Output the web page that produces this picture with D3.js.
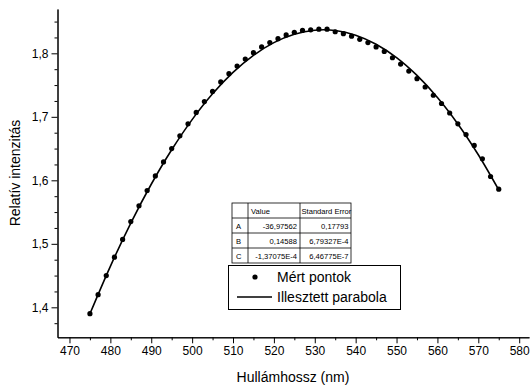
<!DOCTYPE html>
<html lang="en">
<head>
<meta charset="UTF-8">
<title>Parabola fit</title>
<script src="https://d3js.org/d3.v7.min.js"></script>
<style>
    body { margin: 0; background: #fff; }
    text { font-family: "Liberation Sans", Arial, sans-serif; fill: #000; }
    .axis path, .axis line { stroke: #000; stroke-width: 1; }
</style>
</head>
<body>
<script>
    // measured points (wavelength nm, relative intensity)
    let wavelengths = [475, 477, 479, 481, 483, 485, 487, 489, 491, 493, 495, 497, 499,
        501, 503, 505, 507, 509, 511, 513, 515, 517, 519, 521, 523, 525, 527, 529,
        531, 533, 535, 537, 539, 541, 543, 545, 547, 549, 551, 553, 555, 557, 559,
        561, 563, 565, 567, 569, 571, 573, 575];
    let intensities = [1.390, 1.420, 1.450, 1.479, 1.507, 1.535, 1.560, 1.584, 1.607, 1.629,
        1.650, 1.670, 1.689, 1.707, 1.724, 1.740, 1.755, 1.768, 1.780, 1.791, 1.801,
        1.810, 1.817, 1.823, 1.829, 1.833, 1.836, 1.837, 1.838, 1.838, 1.834, 1.831,
        1.827, 1.822, 1.817, 1.810, 1.803, 1.793, 1.783, 1.772, 1.760, 1.747, 1.734,
        1.721, 1.706, 1.689, 1.672, 1.655, 1.634, 1.606, 1.586];

    // fitted parabola, read every 5 nm
    let fitX = [475, 480, 485, 490, 495, 500, 505, 510, 515, 520, 525, 530, 535,
        540, 545, 550, 555, 560, 565, 570, 575];
    let fitY = [1.3898, 1.4646, 1.5327, 1.5938, 1.6481, 1.6956, 1.7362, 1.7699, 1.7968,
        1.8169, 1.8301, 1.8364, 1.8359, 1.8285, 1.8143, 1.7932, 1.7652, 1.7305,
        1.6888, 1.6403, 1.5850];

    // parameter table
    let paramNames = ["A", "B", "C"];
    let paramValues = ["-36,97562", "0,14588", "-1,37075E-4"];
    let paramErrors = ["0,17793", "6,79327E-4", "6,46775E-7"];

    let xMajor = [470, 480, 490, 500, 510, 520, 530, 540, 550, 560, 570, 580];
    let yMajor = [1.4, 1.5, 1.6, 1.7, 1.8];

    let width = 530, height = 390;

    let svg = d3.select("body").append("svg")
        .attr("width", width)
        .attr("height", height);

    let x = d3.scaleLinear().domain([467.07, 582.4]).range([57.5, 529]);
    let y = d3.scaleLinear().domain([1.3528, 1.8698]).range([337.3, 9]);

    let comma = d => d.toFixed(1).replace(".", ",");

    // minor ticks
    let xMinor = d3.range(475, 581, 10);
    let yMinor = d3.range(1.375, 1.87, 0.025).filter(v => Math.abs(v * 10 - Math.round(v * 10)) > 0.01);

    svg.append("g")
        .attr("class", "axis")
        .attr("transform", "translate(0," + y.range()[0] + ")")
        .call(d3.axisBottom(x).tickValues(xMinor).tickSize(3).tickFormat("").tickSizeOuter(0));
    svg.append("g")
        .attr("class", "axis")
        .attr("transform", "translate(0," + y.range()[0] + ")")
        .call(d3.axisBottom(x).tickValues(xMajor).tickSize(6).tickPadding(3).tickSizeOuter(0))
        .selectAll("text").style("font-size", "12px");

    svg.append("g")
        .attr("class", "axis")
        .attr("transform", "translate(" + x.range()[0] + ",0)")
        .call(d3.axisLeft(y).tickValues(yMinor).tickSize(3).tickFormat("").tickSizeOuter(0));
    svg.append("g")
        .attr("class", "axis")
        .attr("transform", "translate(" + x.range()[0] + ",0)")
        .call(d3.axisLeft(y).tickValues(yMajor).tickFormat(comma).tickSize(6).tickPadding(3).tickSizeOuter(0))
        .selectAll("text").style("font-size", "12px");

    // axis titles
    svg.append("text")
        .attr("x", 293)
        .attr("y", 382)
        .attr("text-anchor", "middle")
        .style("font-size", "14px")
        .text("Hullámhossz (nm)");
    svg.append("text")
        .attr("transform", "translate(20,173) rotate(-90)")
        .attr("text-anchor", "middle")
        .style("font-size", "14px")
        .text("Relatív intenzitás");

    // fitted curve
    let line = d3.line()
        .x((d, i) => x(fitX[i]))
        .y(d => y(d))
        .curve(d3.curveCatmullRom);
    svg.append("path")
        .datum(fitY)
        .attr("d", line)
        .attr("fill", "none")
        .attr("stroke", "#000")
        .attr("stroke-width", 1.6);

    // measured points
    svg.append("g")
        .selectAll("circle")
        .data(intensities)
        .join("circle")
        .attr("cx", (d, i) => x(wavelengths[i]))
        .attr("cy", d => y(d))
        .attr("r", 2.6)
        .attr("fill", "#000");

    // parameter table
    let tx = 232, ty = 203, rowH = 15;
    let colX = [tx, tx + 16, tx + 68, tx + 119];
    let table = svg.append("g");
    table.append("rect")
        .attr("x", tx).attr("y", ty)
        .attr("width", colX[3] - tx).attr("height", rowH * 4)
        .attr("fill", "#fff").attr("stroke", "#000").attr("stroke-width", 0.8);
    for (let r = 1; r < 4; r++) {
        table.append("line")
            .attr("x1", tx).attr("x2", colX[3])
            .attr("y1", ty + r * rowH).attr("y2", ty + r * rowH)
            .attr("stroke", "#000").attr("stroke-width", 0.8);
    }
    for (let c = 1; c < 3; c++) {
        table.append("line")
            .attr("x1", colX[c]).attr("x2", colX[c])
            .attr("y1", ty).attr("y2", ty + rowH * 4)
            .attr("stroke", "#000").attr("stroke-width", 0.8);
    }
    let fs = "7.6px";
    table.append("text").attr("x", colX[1] + 3).attr("y", ty + 10.5).style("font-size", fs).text("Value");
    table.append("text").attr("x", colX[2] + 1.5).attr("y", ty + 10.5).style("font-size", fs).text("Standard Error");
    paramNames.forEach((p, i) => {
        let by = ty + (i + 1) * rowH + 10.5;
        table.append("text").attr("x", tx + 4).attr("y", by).style("font-size", fs).text(p);
        table.append("text").attr("x", colX[2] - 3).attr("y", by).attr("text-anchor", "end")
            .style("font-size", fs).text(paramValues[i]);
        table.append("text").attr("x", colX[3] - 2.5).attr("y", by).attr("text-anchor", "end")
            .style("font-size", fs).text(paramErrors[i]);
    });

    // legend
    let legend = svg.append("g");
    legend.append("rect")
        .attr("x", 228.5).attr("y", 265.5)
        .attr("width", 172).attr("height", 44)
        .attr("fill", "#fff").attr("stroke", "#000").attr("stroke-width", 1);
    legend.append("circle").attr("cx", 255).attr("cy", 277).attr("r", 2.6).attr("fill", "#000");
    legend.append("text").attr("x", 277).attr("y", 282).style("font-size", "14px").text("Mért pontok");
    legend.append("line")
        .attr("x1", 237).attr("x2", 272).attr("y1", 297).attr("y2", 297)
        .attr("stroke", "#000").attr("stroke-width", 1.6);
    legend.append("text").attr("x", 277).attr("y", 302).style("font-size", "14px").text("Illesztett parabola");
</script>
</body>
</html>
